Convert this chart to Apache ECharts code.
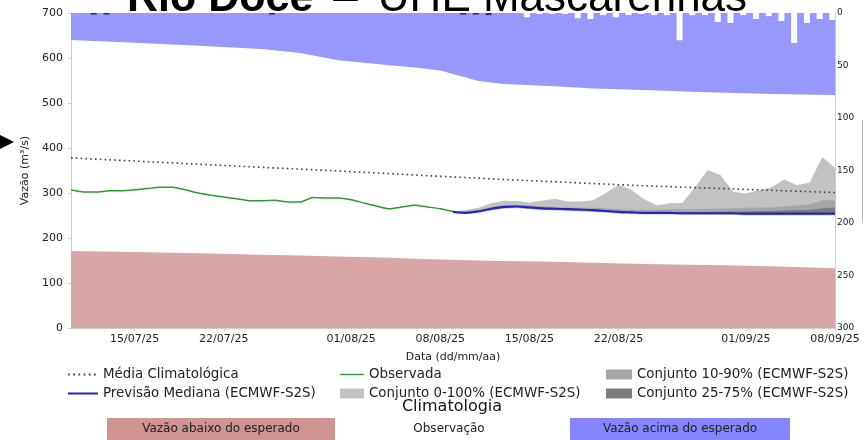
<!DOCTYPE html>
<html>
<head>
<meta charset="utf-8">
<script src="https://cdn.jsdelivr.net/npm/echarts@6/dist/echarts.min.js"></script>
<style>
  html, body { margin: 0; padding: 0; background: #ffffff; }
  #chart { width: 864px; height: 440px; }
</style>
</head>
<body>
<div id="chart"></div>
<script>
// ---- Data ----------------------------------------------------------------
const axisStart = '2025-07-10';
const axisEnd = '2025-09-08';
const tickDates = ['2025-07-15', '2025-07-22', '2025-08-01', '2025-08-08',
                   '2025-08-15', '2025-08-22', '2025-09-01', '2025-09-08'];

// Climatological band (m³/s)
const climDates = ['2025-07-10', '2025-07-15', '2025-07-20', '2025-07-25', '2025-07-28',
                   '2025-07-31', '2025-08-04', '2025-08-06', '2025-08-08', '2025-08-11',
                   '2025-08-13', '2025-08-17', '2025-08-20', '2025-08-24', '2025-08-29',
                   '2025-09-03', '2025-09-08'];
const climUpper = [640, 634, 627, 620, 611, 595, 584, 579, 572, 549, 542, 537, 532, 529, 524, 520, 518];
const climLower = [171, 169, 166, 163, 161, 159, 156, 154, 152, 150, 149, 147, 145, 142, 140, 137, 133];
const climMean  = [378, 371, 364, 357, 353, 349, 343, 340, 337, 333, 330, 325, 321, 316, 311, 306, 301];

// Observed discharge, daily from 10/07/25
const obsStart = '2025-07-10';
const obsFlow = [307, 302, 302, 305, 305, 307, 310, 313, 313, 307,
                 300, 295, 291, 287, 283, 283, 284, 280, 280, 290,
                 289, 289, 285, 278, 271, 265, 269, 273, 269, 265, 259];

// ECMWF-S2S ensemble forecast, daily from 09/08/25
const fcstStart = '2025-08-09';
const fcstMedian = [258, 256, 259, 265, 269, 270, 268, 266, 265, 264, 263, 262, 260, 258, 257, 256,
                    256, 256, 255, 255, 255, 255, 255, 254, 254, 254, 254, 254, 254, 254, 254];
const fcstP0   = [258, 254, 256, 261, 265, 266, 264, 262, 261, 260, 259, 258, 256, 254, 253, 252,
                  252, 252, 251, 251, 251, 251, 251, 250, 250, 250, 250, 250, 250, 250, 250];
const fcstP10  = [258, 255, 258, 264, 268, 269, 267, 265, 264, 263, 262, 261, 259, 257, 256, 255,
                  255, 255, 254, 254, 254, 254, 254, 253, 253, 253, 253, 253, 253, 253, 253];
const fcstP25  = [258, 256, 258, 264, 268, 269, 267, 265, 264, 263, 262, 261, 259, 257, 256, 255,
                  255, 255, 255, 255, 255, 255, 255, 254, 254, 254, 254, 254, 254, 254, 254];
const fcstP75  = [258, 257, 260, 266, 270, 271, 269, 267, 266, 265, 264, 263, 261, 260, 259, 258,
                  258, 258, 258, 258, 258, 259, 259, 259, 260, 260, 261, 262, 263, 266, 268];
const fcstP90  = [258, 258, 262, 269, 273, 274, 272, 270, 269, 268, 267, 267, 266, 264, 263, 263,
                  263, 264, 264, 264, 265, 265, 266, 267, 268, 268, 270, 272, 275, 284, 284];
const fcstP100 = [258, 262, 267, 277, 283, 282, 279, 283, 287, 281, 281, 284, 300, 318, 307, 286,
                  273, 277, 278, 312, 351, 340, 303, 299, 306, 312, 330, 318, 323, 380, 356];

// Daily precipitation (mm), right axis
const rainObsDates = ['2025-07-11', '2025-07-12', '2025-07-25', '2025-08-09', '2025-08-10', '2025-08-11'];
const rainObs      = [1.5, 1.5, 1.5, 1.5, 1.5, 2];
const rainFcstStart = '2025-08-14';
const rainFcst = [4, 1, 1, 1, 5, 5.7, 2, 4, 2, 1, 2, 2, 26, 2, 2, 8.5, 9.5, 2, 5.7, 3, 7.6, 28.5, 9.5, 5.7, 6.7];
const rainHourOffset = 19; // accumulation reported in the evening

// ---- Helpers ---------------------------------------------------------------
const DAY = 86400000;
const ts = s => Date.UTC(+s.slice(0, 4), +s.slice(5, 7) - 1, +s.slice(8, 10));
const dayList = (start, n) => Array.from({ length: n }, (_, i) => ts(start) + i * DAY);
const pairs = (xs, ys) => xs.map((x, i) => [x, ys[i]]);
const fmtDate = v => {
  const d = new Date(v);
  return String(d.getUTCDate()).padStart(2, '0') + '/' +
         String(d.getUTCMonth() + 1).padStart(2, '0') + '/' +
         String(d.getUTCFullYear()).slice(2);
};

const climX = climDates.map(ts);
const obsX = dayList(obsStart, obsFlow.length);
const fcstX = dayList(fcstStart, fcstMedian.length);
const rainObsX = rainObsDates.map(d => ts(d) + rainHourOffset * 3600000);
const rainFcstX = dayList(rainFcstStart, rainFcst.length).map(t => t + rainHourOffset * 3600000);
const tickX = tickDates.map(ts);

const FONT = 'DejaVu Sans';
const C_ABOVE = '#9797fc', C_BELOW = '#d9a6a7';
const C_ENS0 = '#c2c2c2', C_ENS10 = '#a6a6a6', C_ENS25 = '#7c7c7c';

// Nested ensemble envelopes: each curve is filled down to the axis,
// widest first, so every band shows through between its two limits.
const envelope = (name, data, color) => ({
  name, type: 'line', data, symbol: 'none', silent: true, color,
  lineStyle: { width: 0, opacity: 0 },
  areaStyle: { color, opacity: 1, origin: 'start' }, z: 2
});

// Legend glyphs: a thin bar for solid lines, a row of dots for the mean
const lineIcon = t => `path://M0,0 L0,0 M0,${5 - t / 2} L30,${5 - t / 2} L30,${5 + t / 2} L0,${5 + t / 2} Z M30,10 L30,10`;
const dotIcon = (() => {
  let p = 'path://M0,0 L0,0 ';
  for (let x = 0; x <= 26; x += 5.2) p += `M${x},4.1 L${x + 1.8},4.1 L${x + 1.8},5.9 L${x},5.9 Z `;
  return p + 'M30,10 L30,10';
})();

const chart = echarts.init(document.getElementById('chart'), null, { renderer: 'canvas' });

const legendText = { fontFamily: FONT, fontSize: 13.4, color: '#222' };
const TFONT = 'Liberation Sans';

chart.setOption({
  animation: false,
  backgroundColor: '#ffffff',
  textStyle: { fontFamily: FONT },
  title: {
    text: '{b|Rio Doce}{d|–}{r|UHE Mascarenhas}',
    left: 122, top: -28,
    textStyle: {
      fontFamily: TFONT, fontSize: 44, fontWeight: 'normal', color: '#000', lineHeight: 44,
      rich: {
        b: { fontFamily: TFONT, fontSize: 43, fontWeight: 'bold', color: '#000', lineHeight: 44 },
        d: { fontFamily: TFONT, fontSize: 44, color: '#000', lineHeight: 44, padding: [0, 20, 0, 20] },
        r: { fontFamily: TFONT, fontSize: 44, color: '#000', lineHeight: 44 }
      }
    }
  },
  grid: { left: 71, right: 29, top: 13, bottom: 112 },
  xAxis: {
    type: 'value',
    min: ts(axisStart), max: ts(axisEnd),
    name: 'Data (dd/mm/aa)', nameLocation: 'middle', nameGap: 24,
    nameTextStyle: { fontFamily: FONT, fontSize: 11, color: '#222' },
    axisLine: { show: true, lineStyle: { color: '#cccccc' } },
    axisTick: { show: true, length: 3, lineStyle: { color: '#cccccc' }, customValues: tickX },
    axisLabel: {
      fontFamily: FONT, fontSize: 11, color: '#222', margin: 6,
      customValues: tickX, formatter: fmtDate
    },
    splitLine: { show: false }
  },
  yAxis: [
    {
      type: 'value', min: 0, max: 700, interval: 100,
      name: 'Vazão (m³/s)', nameLocation: 'middle', nameGap: 36,
      nameTextStyle: { fontFamily: FONT, fontSize: 11, color: '#222' },
      axisLine: { show: true, lineStyle: { color: '#cccccc' } },
      axisTick: { show: true, length: 3, lineStyle: { color: '#cccccc' } },
      axisLabel: { fontFamily: FONT, fontSize: 11, color: '#222', margin: 8 },
      splitLine: { show: false }
    },
    {
      type: 'value', min: 0, max: 300, interval: 50, inverse: true, position: 'right',
      axisLine: { show: true, lineStyle: { color: '#cccccc' } },
      axisTick: { show: false },
      axisLabel: { fontFamily: FONT, fontSize: 9, color: '#222', margin: 2 },
      splitLine: { show: false }
    }
  ],
  legend: [
    {
      orient: 'vertical', left: 63, top: 363, itemGap: 6, itemWidth: 30, itemHeight: 10,
      textStyle: legendText, selectedMode: false,
      data: [
        { name: 'Média Climatológica', icon: dotIcon },
        { name: 'Previsão Mediana (ECMWF-S2S)', icon: lineIcon(2) }
      ]
    },
    {
      orient: 'vertical', left: 335, top: 363, itemGap: 6, itemWidth: 24, itemHeight: 10,
      textStyle: legendText, selectedMode: false,
      data: [
        { name: 'Observada', icon: lineIcon(1.7) },
        { name: 'Conjunto 0-100% (ECMWF-S2S)', icon: 'rect' }
      ]
    },
    {
      orient: 'vertical', left: 601, top: 363, itemGap: 6, itemWidth: 26, itemHeight: 10,
      textStyle: legendText, selectedMode: false,
      data: [
        { name: 'Conjunto 10-90% (ECMWF-S2S)', icon: 'rect' },
        { name: 'Conjunto 25-75% (ECMWF-S2S)', icon: 'rect' }
      ]
    }
  ],
  series: [
    // climatology: flow above the expected range
    {
      name: 'Vazão acima do esperado', type: 'line', data: pairs(climX, climUpper),
      symbol: 'none', silent: true, lineStyle: { width: 0, opacity: 0 },
      areaStyle: { color: C_ABOVE, opacity: 1, origin: 'end' }, z: 1
    },
    // precipitation bars hanging from the top
    {
      name: 'Precipitação observada', type: 'bar', yAxisIndex: 1,
      data: pairs(rainObsX, rainObs),
      barWidth: 6, barGap: '-100%', itemStyle: { color: '#2a2a8a' }, z: 2
    },
    {
      name: 'Precipitação prevista', type: 'bar', yAxisIndex: 1,
      data: pairs(rainFcstX, rainFcst),
      barWidth: 6, barGap: '-100%', itemStyle: { color: '#ffffff' }, z: 2
    },
    // ensemble spread
    envelope('Conjunto 0-100% (ECMWF-S2S)', pairs(fcstX, fcstP100), C_ENS0),
    envelope('Conjunto 10-90% (ECMWF-S2S)', pairs(fcstX, fcstP90), C_ENS10),
    envelope('Conjunto 25-75% (ECMWF-S2S)', pairs(fcstX, fcstP75), C_ENS25),
    envelope('p25', pairs(fcstX, fcstP25), C_ENS10),
    envelope('p10', pairs(fcstX, fcstP10), C_ENS0),
    envelope('p0', pairs(fcstX, fcstP0), '#ffffff'),
    // climatology: flow below the expected range
    {
      name: 'Vazão abaixo do esperado', type: 'line', data: pairs(climX, climLower),
      symbol: 'none', silent: true, lineStyle: { width: 0, opacity: 0 },
      areaStyle: { color: C_BELOW, opacity: 1, origin: 'start' }, z: 3
    },
    // lines
    {
      name: 'Média Climatológica', type: 'line', data: pairs(climX, climMean),
      symbol: 'none', color: '#444444',
      lineStyle: { color: '#444444', width: 1.6, type: [1.6, 3.2] }, z: 4
    },
    {
      name: 'Observada', type: 'line', data: pairs(obsX, obsFlow),
      symbol: 'none', color: '#2e9a2e', smooth: 0.2,
      lineStyle: { color: '#2e9a2e', width: 1.5 }, z: 5
    },
    {
      name: 'Previsão Mediana (ECMWF-S2S)', type: 'line', data: pairs(fcstX, fcstMedian),
      symbol: 'none', color: '#2323c4', smooth: 0.2,
      lineStyle: { color: '#2323c4', width: 2.2 }, z: 5
    }
  ],
  graphic: [
    { type: 'polygon', shape: { points: [[0, 135], [14, 142], [0, 149]] }, style: { fill: '#000' } },
    { type: 'line', shape: { x1: 862.5, y1: 120, x2: 862.5, y2: 222 }, style: { stroke: '#bbbbbb', lineWidth: 1 } },
    {
      type: 'text', x: 452, y: 407,
      style: { text: 'Climatologia', font: '16px "DejaVu Sans"', fill: '#111', align: 'center', verticalAlign: 'middle' }
    },
    { type: 'rect', shape: { x: 107, y: 418, width: 228, height: 22 }, style: { fill: '#d09393' } },
    {
      type: 'text', x: 221, y: 429,
      style: { text: 'Vazão abaixo do esperado', font: '12px "DejaVu Sans"', fill: '#222', align: 'center', verticalAlign: 'middle' }
    },
    {
      type: 'text', x: 449, y: 429,
      style: { text: 'Observação', font: '12px "DejaVu Sans"', fill: '#222', align: 'center', verticalAlign: 'middle' }
    },
    { type: 'rect', shape: { x: 570, y: 418, width: 220, height: 22 }, style: { fill: '#8585ff' } },
    {
      type: 'text', x: 680, y: 429,
      style: { text: 'Vazão acima do esperado', font: '12px "DejaVu Sans"', fill: '#222', align: 'center', verticalAlign: 'middle' }
    }
  ]
});
</script>
</body>
</html>
